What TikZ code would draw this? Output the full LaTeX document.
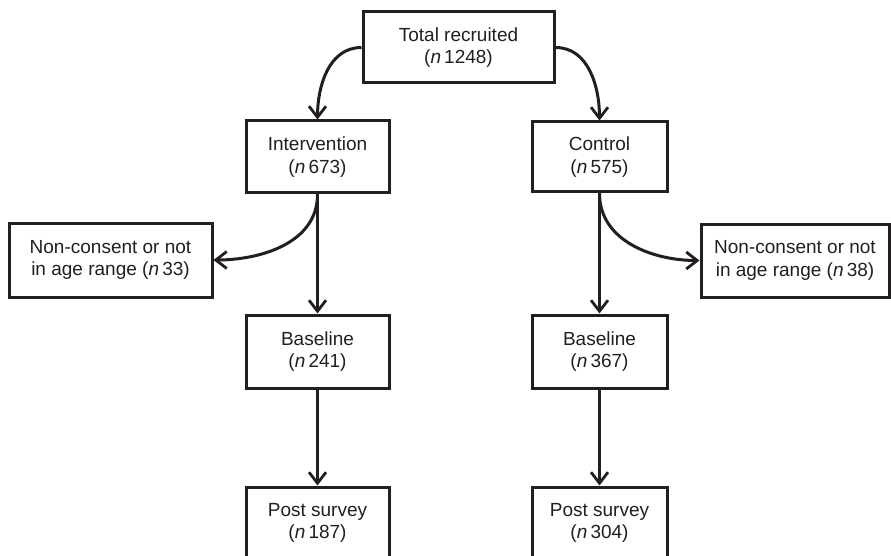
\documentclass[tikz,border=0pt]{standalone}
\usepackage{fontspec}
\setmainfont{Liberation Sans}
\usetikzlibrary{arrows.meta}
\definecolor{ink}{HTML}{231F20}
\begin{document}
\begin{tikzpicture}[x=1pt,y=-1pt,
  box/.style={draw=ink,line width=3pt,text=ink,align=center,inner sep=0pt,
    font=\fontsize{19}{22.5}\selectfont},
  arr/.style={draw=ink,line width=3pt,-{Straight Barb[length=11pt,width=17pt,line width=2.8pt]}}]
\useasboundingbox (0,0) rectangle (891,556);
\clip (0,0) rectangle (891,556);
\fill[white] (0,0) rectangle (891,556);
\node[box,minimum width=191pt,minimum height=71pt] (top) at (458.5,47.5) {Total recruited\\(\textit{n}\,1248)};
\node[box,minimum width=143pt,minimum height=72pt] (int) at (317.5,157) {Intervention\\(\textit{n}\,673)};
\node[box,minimum width=135pt,minimum height=70pt] (ctrl) at (599.5,157) {Control\\(\textit{n}\,575)};
\node[box,minimum width=203pt,minimum height=74pt] (ncl) at (110.5,260) {Non-consent or not\\in age range (\textit{n}\,33)};
\node[box,minimum width=188pt,minimum height=73pt] (ncr) at (795,260.5) {Non-consent or not\\in age range (\textit{n}\,38)};
\node[box,minimum width=143pt,minimum height=73pt] (bl) at (317.5,351.5) {Baseline\\(\textit{n}\,241)};
\node[box,minimum width=135pt,minimum height=73pt] (br) at (599.5,351.5) {Baseline\\(\textit{n}\,367)};
\node[box,minimum width=143pt,minimum height=72pt] (pl) at (317.5,523) {Post survey\\(\textit{n}\,187)};
\node[box,minimum width=135pt,minimum height=72pt] (pr) at (599.5,523) {Post survey\\(\textit{n}\,304)};
\draw[arr] (top.west) to[out=180,in=90] (int.north);
\draw[arr] (top.east) to[out=0,in=90] (ctrl.north);
\draw[arr] (int.south) to[out=-90,in=0] (ncl.east);
\draw[arr] (ctrl.south) to[out=-90,in=180] (ncr.west);
\draw[arr] (int.south) -- (bl.north);
\draw[arr] (ctrl.south) -- (br.north);
\draw[arr] (bl.south) -- (pl.north);
\draw[arr] (br.south) -- (pr.north);
\end{tikzpicture}
\end{document}
